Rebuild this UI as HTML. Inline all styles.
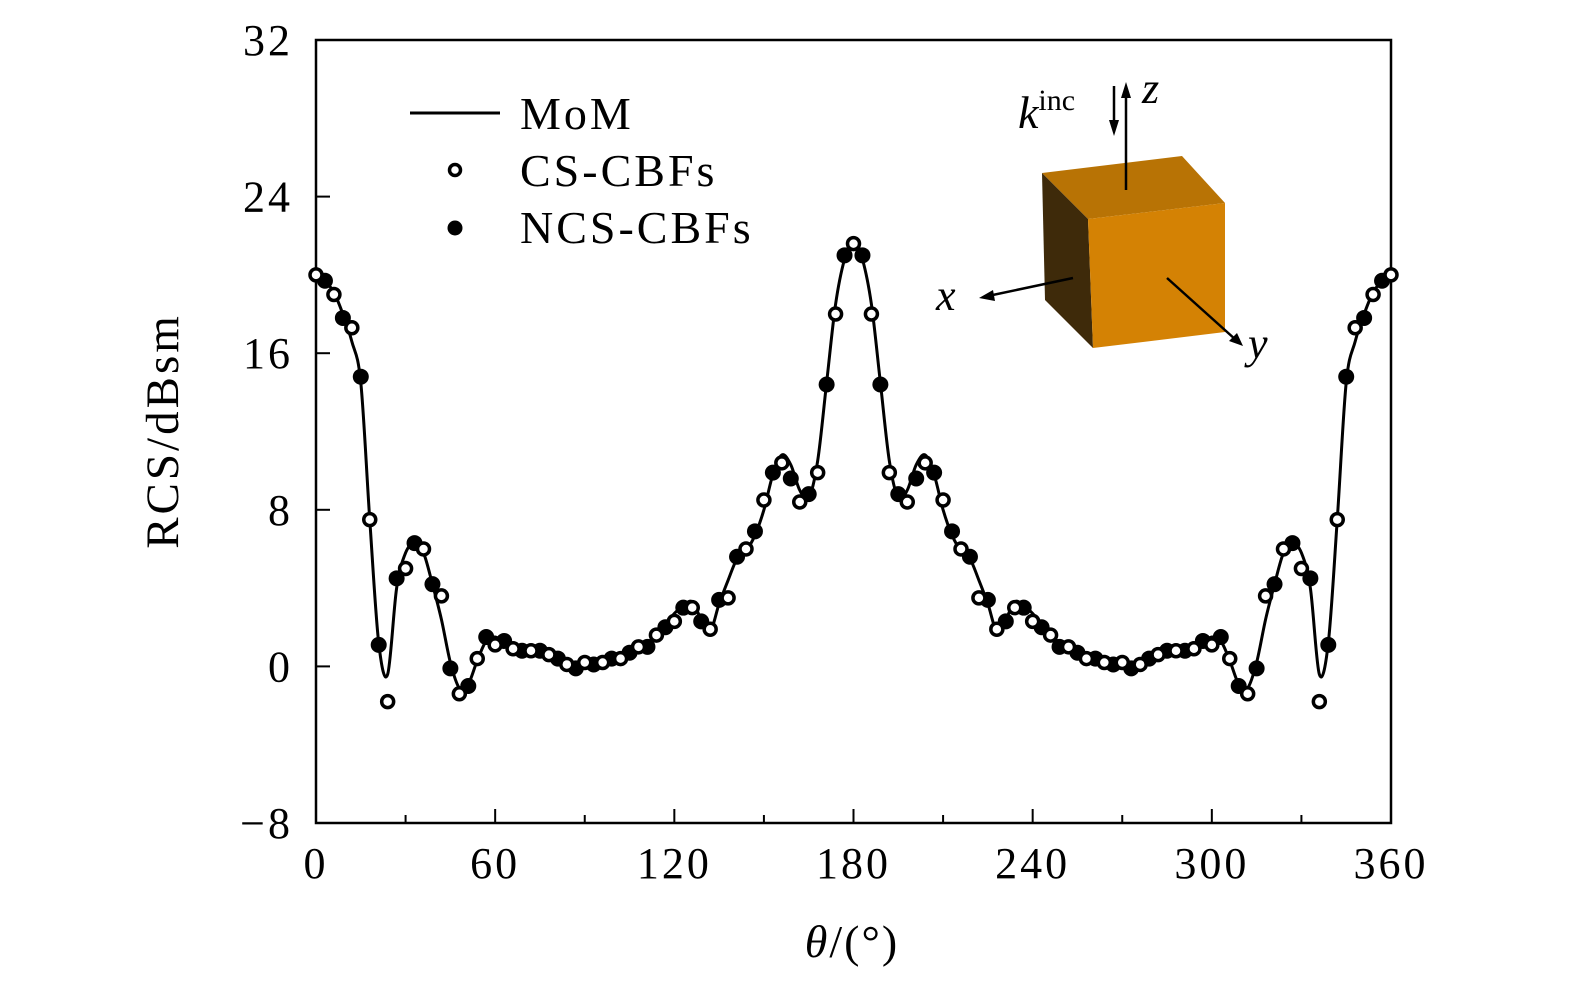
<!DOCTYPE html>
<html><head><meta charset="utf-8">
<style>
html,body{margin:0;padding:0;background:#fff;}
svg text{font-family:"Liberation Serif","DejaVu Serif",serif;fill:#000;}
</style></head>
<body>
<svg id="chart" width="1575" height="984" viewBox="0 0 1575 984" xmlns="http://www.w3.org/2000/svg">
  <rect x="316" y="40" width="1075" height="783" fill="none" stroke="#000" stroke-width="2.5"/>
  <g id="ticks"></g>
  <g id="series"></g>
  <text transform="translate(178,431) rotate(-90)" text-anchor="middle" font-size="47" letter-spacing="3">RCS/dBsm</text>
  <text x="852" y="957" text-anchor="middle" font-size="46" letter-spacing="2"><tspan font-style="italic">θ</tspan>/(°)</text>
  <g>
    <line x1="410" y1="113" x2="500" y2="113" stroke="#000" stroke-width="3"/>
    <text x="520" y="129" font-size="46" letter-spacing="3">MoM</text>
    <circle cx="455" cy="170" r="5.5" fill="#fff" stroke="#000" stroke-width="3.5"/>
    <text x="520" y="186" font-size="46" letter-spacing="3">CS-CBFs</text>
    <circle cx="455" cy="228" r="7.5" fill="#000"/>
    <text x="520" y="243" font-size="46" letter-spacing="3">NCS-CBFs</text>
  </g>
  <g>
    <polygon points="1042,173 1182,156 1225,203 1088,219" fill="#b87305"/>
    <polygon points="1042,173 1088,219 1093,348 1045,300" fill="#3e2a0a"/>
    <polygon points="1088,219 1225,203 1225,332 1093,348" fill="#d48204"/>
    <line x1="1126" y1="190" x2="1126" y2="90" stroke="#000" stroke-width="2.5"/>
    <polygon points="1126,82 1121,98 1131,98" fill="#000"/>
    <line x1="1114" y1="86" x2="1114" y2="128" stroke="#000" stroke-width="2.5"/>
    <polygon points="1114,136 1109,120 1119,120" fill="#000"/>
    <line x1="1073" y1="278" x2="988" y2="296" stroke="#000" stroke-width="2.5"/>
    <polygon points="979,298 993,290 995,301" fill="#000"/>
    <line x1="1167" y1="278" x2="1236" y2="340" stroke="#000" stroke-width="2.5"/>
    <polygon points="1243,346 1229,341 1237,333" fill="#000"/>
    <text x="1018" y="128" font-size="46" font-style="italic">k<tspan font-style="normal" font-size="30" dy="-18">inc</tspan></text>
    <text x="1142" y="103" font-size="44" font-style="italic">z</text>
    <text x="936" y="310" font-size="44" font-style="italic">x</text>
    <text x="1248" y="358" font-size="44" font-style="italic">y</text>
  </g>
</svg>
<script>
const xTicks = [0,60,120,180,240,300,360];
const xMinorTicks = [30,90,150,210,270,330];
const yTicks = [-8,0,8,16,24,32];
const momAngles = [0,3,6,9,12,15,18,21,24,27,30,33,36,39,42,45,48,51,54,57,60,63,66,69,72,75,78,81,84,87,90,93,96,99,102,105,108,111,114,117,120,123,126,129,132,135,138,141,144,147,150,153,156,159,162,165,168,171,174,177,180,
183,186,189,192,195,198,201,204,207,210,213,216,219,222,225,228,231,234,237,240,243,246,249,252,255,258,261,264,267,270,273,276,279,282,285,288,291,294,297,300,303,306,309,312,315,318,321,324,327,330,333,336,339,342,345,348,351,354,357,360];
const momValues = [20.0,19.7,19.1,18.0,16.6,14.5,7.5,1.2,-0.4,4.0,5.8,6.3,5.8,4.2,2.4,0.2,-1.1,-0.9,0.3,1.3,1.5,1.2,0.8,0.8,0.8,0.8,0.7,0.4,0.1,0.0,0.0,0.1,0.2,0.3,0.5,0.7,0.9,1.2,1.6,2.1,2.7,3.1,3.3,2.4,1.8,3.2,4.4,5.5,5.9,6.7,8.0,9.8,10.8,10.3,9.0,8.6,10.5,14.5,18.5,20.8,21.8,
20.8,18.5,14.5,10.5,8.6,9.0,10.3,10.8,9.8,8.0,6.7,5.9,5.5,4.4,3.2,1.8,2.4,3.3,3.1,2.7,2.1,1.6,1.2,0.9,0.7,0.5,0.3,0.2,0.1,0.0,0.0,0.1,0.4,0.7,0.8,0.8,0.8,0.8,1.2,1.5,1.3,0.3,-0.9,-1.1,0.2,2.4,4.2,5.8,6.3,5.8,4.0,-0.4,1.2,7.5,14.5,16.6,18.0,19.1,19.7,20.0];
const csAngles = [0,6,12,18,24,30,36,42,48,54,60,66,72,78,84,90,96,102,108,114,120,126,132,138,144,150,156,162,168,174,180,186,192,198,204,210,216,222,228,234,240,246,252,258,264,270,276,282,288,294,300,306,312,318,324,330,336,342,348,354,360];
const csValues = [20.0,19.0,17.3,7.5,-1.8,5.0,6.0,3.6,-1.4,0.4,1.1,0.9,0.8,0.6,0.1,0.2,0.2,0.4,1.0,1.6,2.3,3.0,1.9,3.5,6.0,8.5,10.4,8.4,9.9,18.0,21.6,
18.0,9.9,8.4,10.4,8.5,6.0,3.5,1.9,3.0,2.3,1.6,1.0,0.4,0.2,0.2,0.1,0.6,0.8,0.9,1.1,0.4,-1.4,3.6,6.0,5.0,-1.8,7.5,17.3,19.0,20.0];
const ncsAngles = [3,9,15,21,27,33,39,45,51,57,63,69,75,81,87,93,99,105,111,117,123,129,135,141,147,153,159,165,171,177,183,189,195,201,207,213,219,225,231,237,243,249,255,261,267,273,279,285,291,297,303,309,315,321,327,333,339,345,351,357];
const ncsValues = [19.7,17.8,14.8,1.1,4.5,6.3,4.2,-0.1,-1.0,1.5,1.3,0.8,0.8,0.4,-0.1,0.1,0.4,0.7,1.0,2.0,3.0,2.3,3.4,5.6,6.9,9.9,9.6,8.8,14.4,21.0,
21.0,14.4,8.8,9.6,9.9,6.9,5.6,3.4,2.3,3.0,2.0,1.0,0.7,0.4,0.1,-0.1,0.4,0.8,0.8,1.3,1.5,-1.0,-0.1,4.2,6.3,4.5,1.1,14.8,17.8,19.7];

const NS = 'http://www.w3.org/2000/svg';
const X0 = 316, X1 = 1391, Y0 = 823, Y1 = 40;
function xScale(t){ return X0 + (t - 0) / 360 * (X1 - X0); }
function yScale(v){ return Y0 - (v + 8) / 40 * (Y0 - Y1); }
function mk(tag, attrs, parent){ const e = document.createElementNS(NS, tag); for (const k in attrs) e.setAttribute(k, attrs[k]); parent.appendChild(e); return e; }

const tg = document.getElementById('ticks');
xTicks.forEach(t => {
  const x = xScale(t);
  const l = mk('line', {x1:x, y1:Y0, x2:x, y2:Y0-14, stroke:'#000', 'stroke-width':2}, tg);
  
  
  const tx = mk('text', {x:x, y:878, 'text-anchor':'middle', 'font-size':44, 'letter-spacing':3}, tg);
  
  
  tx.textContent = t;
});
xMinorTicks.forEach(t => {
  const x = xScale(t);
  const l = mk('line', {x1:x, y1:Y0, x2:x, y2:Y0-8, stroke:'#000', 'stroke-width':2}, tg);
  
  
});
yTicks.forEach(v => {
  const y = yScale(v);
  const l = mk('line', {x1:X0, y1:y, x2:X0+14, y2:y, stroke:'#000', 'stroke-width':2}, tg);
  
  
  const tx = mk('text', {x:293, y:y+15, 'text-anchor':'end', 'font-size':44, 'letter-spacing':3}, tg);
  
  
  tx.textContent = v < 0 ? '\u2212' + Math.abs(v) : String(v);
});

const sg = document.getElementById('series');
const pts = momAngles.map((a, i) => [xScale(a), yScale(momValues[i])]);
let d = 'M' + pts[0][0] + ',' + pts[0][1];
for (let i = 0; i < pts.length - 1; i++) {
  const p0 = pts[Math.max(0, i-1)], p1 = pts[i], p2 = pts[i+1], p3 = pts[Math.min(pts.length-1, i+2)];
  const c1x = p1[0] + (p2[0]-p0[0])/6, c1y = p1[1] + (p2[1]-p0[1])/6;
  const c2x = p2[0] - (p3[0]-p1[0])/6, c2y = p2[1] - (p3[1]-p1[1])/6;
  d += ' C' + c1x + ',' + c1y + ' ' + c2x + ',' + c2y + ' ' + p2[0] + ',' + p2[1];
}
const line = mk('path', {d:d, fill:'none', stroke:'#000', 'stroke-width':3}, sg);



ncsAngles.forEach((a, i) => {
  const c = mk('circle', {cx:xScale(a), cy:yScale(ncsValues[i]), r:8, fill:'#000'}, sg);
  
  
});
csAngles.forEach((a, i) => {
  const c = mk('circle', {cx:xScale(a), cy:yScale(csValues[i]), r:6, fill:'#fff', stroke:'#000', 'stroke-width':3.5}, sg);
  
  
});
</script>
</body></html>
